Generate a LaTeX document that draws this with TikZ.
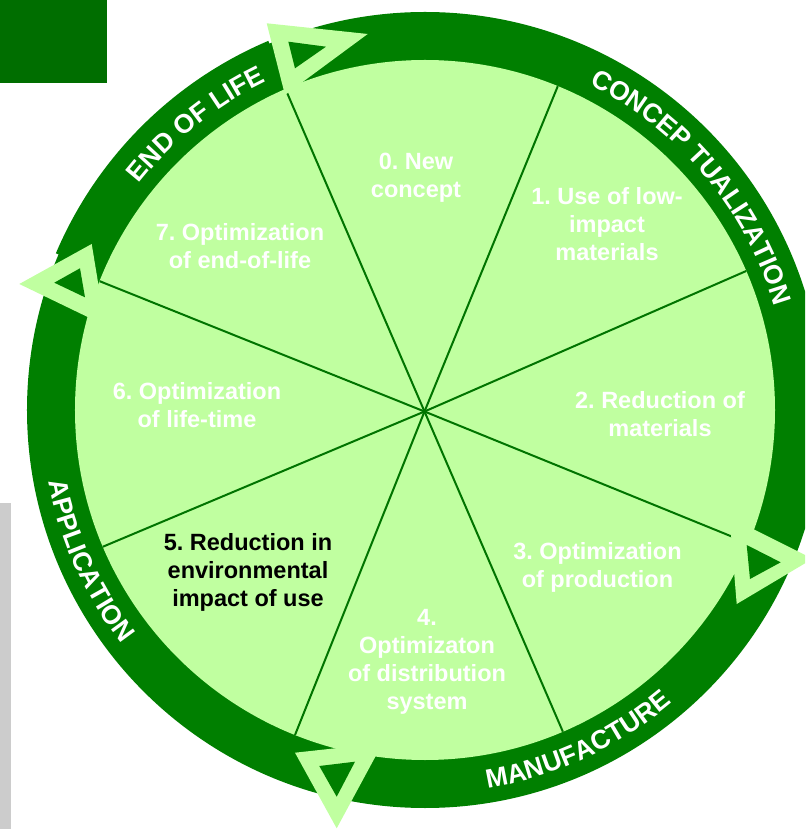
\documentclass[tikz,border=0pt]{standalone}
\usepackage{fontspec}
\setmainfont{Liberation Sans}
\usetikzlibrary{decorations.text}
\definecolor{ringgreen}{HTML}{007F00}
\definecolor{rectgreen}{HTML}{006E00}
\definecolor{pale}{HTML}{C0FFA0}
\definecolor{spokecol}{HTML}{007400}
\definecolor{barg}{HTML}{CCCCCC}
\newcommand\fls{\rule{0pt}{20pt}}
\frenchspacing
\begin{document}
\begin{tikzpicture}[x=1pt,y=1pt,
  lbl/.style={anchor=north, align=center, inner sep=0pt, text=white,
    font=\bfseries\frenchspacing\fontsize{23.5}{28}\selectfont},
  spokeline/.style={draw=spokecol, line width=2pt},
  ringtext/.style={decorate, decoration={text along path, text align=center,
    text color=white, text={|\bfseries\fontsize{26.5}{30}\selectfont|#1}}},
  headout/.style={fill=pale},
  headin/.style={fill=ringgreen}
]
\useasboundingbox (-425,-419) rectangle (380,410);
\clip (-425,-419) rectangle (380,410);
% corner shapes
\fill[rectgreen] (-425,410) rectangle (-318,327);
\fill[barg] (-425,-93) rectangle (-414,-419);
% ring and disk
\fill[ringgreen] (0,0) circle (398);
\fill[ringgreen] (157:401) arc (157:113:401) -- (113:350) arc (113:157:350) -- cycle;
\fill[pale] (0,0) circle (350);
% spokes
\coordinate (c) at (-0.5,-1.5);
\coordinate (s07) at (113.5:350);
\coordinate (s01) at (67.7:350);
\coordinate (s12) at (23.4:350);
\coordinate (s23) at (-22.4:350);
\coordinate (s34) at (-66.8:350);
\coordinate (s45) at (-111.8:350);
\coordinate (s56) at (203:350);
\coordinate (s67) at (158.4:350);
\foreach \s in {s07,s01,s12,s23,s34,s45,s56,s67}
  \draw[spokeline] (c) -- (\s);
% segment labels
\node[lbl] (l0) at (-9,260.7) {\fls 0. New\\concept};
\node[lbl] (l1) at (182,225.5) {\fls 1. Use of low-\\impact\\materials};
\node[lbl] (l2) at (235,21.5) {\fls 2. Reduction of\\materials};
\node[lbl] (l3) at (172.5,-129.5) {\fls 3. Optimization\\of production};
\node[lbl] (l4) at (2,-195.5) {\fls 4.\\Optimizaton\\of distribution\\system};
\node[lbl, text=black] (l5) at (-177,-120.5) {\fls 5. Reduction in\\environmental\\impact of use};
\node[lbl] (l6) at (-228,30.5) {\fls 6. Optimization\\of life-time};
\node[lbl] (l7) at (-185,189.5) {\fls 7. Optimization\\of end-of-life};
% ring labels
\path[ringtext={END OF LIFE}] (148.7:364.7) arc (148.7:108.7:364.7);
\path[ringtext={CONCEP TUALIZATION}] (69.9:364.7) arc (69.9:9.9:364.7);
\path[ringtext={MANUFACTURE}] (-87.2:383.3) arc (-87.2:-43.2:383.3);
\path[ringtext={APPLICATION}] (184.2:383.3) arc (184.2:224.2:383.3);
% arrow heads
\fill[headout] (-158.3,386.7) -- (-57.3,376) -- (-140,315) -- cycle;
\fill[headin] (-136.7,368.3) -- (-99,363.3) -- (-130,341.7) -- cycle;
\fill[headout] (-405.7,126) -- (-333.3,166) -- (-319.9,84.6) -- cycle;
\fill[headin] (-370.7,127.3) -- (-345,141.7) -- (-340,112.7) -- cycle;
\fill[headout] (304.6,-107.3) -- (387.6,-148.8) -- (311.7,-194) -- cycle;
\fill[headin] (321.7,-135) -- (355.7,-152.3) -- (325,-169) -- cycle;
\fill[headout] (-130,-342.7) -- (-42.3,-333.1) -- (-88.3,-418.3) -- cycle;
\fill[headin] (-105.7,-356) -- (-70,-351.7) -- (-88.3,-386.7) -- cycle;
\end{tikzpicture}
\end{document}
